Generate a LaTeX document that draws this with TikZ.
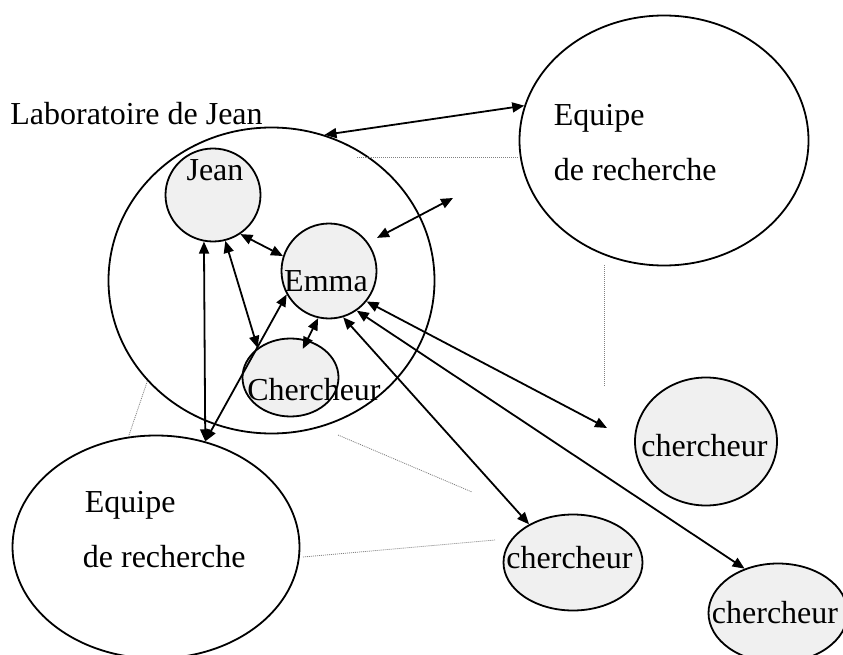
\documentclass[tikz,border=0pt]{standalone}
\usepackage{fontspec}
\setmainfont{Liberation Serif}
\usetikzlibrary{shapes.geometric,arrows.meta}

\begin{document}
\begin{tikzpicture}[<->,>={Triangle[length=12pt,width=10pt]},line width=1.8pt,
                x=1pt,y=1pt,font=\fontsize{32}{38}\selectfont]
        \tikzstyle{groupe}=[ellipse,draw,inner sep=0pt]
        \tikzstyle{membre}=[ellipse,draw,fill=gray!12,inner sep=0pt]
        \tikzstyle{nom}=[inner sep=0pt,anchor=base]
        \tikzstyle{lien}=[-,draw=gray,line width=0.8pt,dash pattern=on 1pt off 1pt]

        \useasboundingbox (0,0) rectangle (843,-655);

        % ensembles
        \node[groupe,minimum width=326pt,minimum height=306pt] (labo) at (271.5,-280.5) {};
        \node[groupe,minimum width=289pt,minimum height=250pt] (equipeA) at (664,-140.5) {};
        \node[groupe,minimum width=287pt,minimum height=223pt] (equipeB) at (156,-547) {};

        % personnes
        \node[membre,minimum width=95pt,minimum height=93pt]   (jean)    at (213,-195) {};
        \node[membre,minimum width=95pt,minimum height=95pt]   (emma)    at (329,-271) {};
        \node[membre,minimum width=96pt,minimum height=78pt]   (cherch)  at (290.5,-377.5) {};
        \node[membre,minimum width=142pt,minimum height=128pt] (cherchA) at (706,-441.5) {};
        \node[membre,minimum width=139pt,minimum height=96pt]  (cherchB) at (573,-562.5) {};
        \node[membre,minimum width=139pt,minimum height=99pt]  (cherchC) at (778,-613) {};

        % textes
        \node[nom] (tlabo)   at (136.5,-125) {Laboratoire de Jean};
        \node[nom] (tjean)   at (215,-181) {Jean};
        \node[nom] (temma)   at (326,-291) {Emma};
        \node[nom] (tcherch) at (314,-400) {Chercheur};
        \node[nom,anchor=base west] (tequipeA) at (553,-126) {Equipe};
        \node[nom,anchor=base west] (trechA)   at (553,-181) {de recherche};
        \node[nom,anchor=base west] (tequipeB) at (84,-512) {Equipe};
        \node[nom,anchor=base west] (trechB)   at (82,-567) {de recherche};
        \node[nom] (tcherchA) at (704.5,-456) {chercheur};
        \node[nom] (tcherchB) at (569.5,-568) {chercheur};
        \node[nom] (tcherchC) at (775,-623) {chercheur};

        \coordinate (libre1) at (453,-198);
        \coordinate (libre2) at (607,-428);

        % relations
        \draw (labo.70) -- (equipeA.166);
        \draw[shorten <=10pt] (emma.36) -- (libre1);
        \draw (jean.-55) -- (emma.162);
        \draw (jean.-101) -- (equipeB.65);
        \draw (jean.-75) -- (cherch.138);
        \draw (emma.-151) -- (equipeB.65);
        \draw[shorten >=-10pt] (emma.-103) -- (cherch.66);
        \draw (emma.-73) -- (cherchB.139);
        \draw (emma.-55) -- (cherchC.127);
        \draw (emma.-39) -- (libre2);

        % pointilles
        \coordinate (d1) at (357,-157);
        \coordinate (d2) at (518,-157);
        \coordinate (d3) at (604,-265);
        \coordinate (d4) at (604,-386);
        \coordinate (d5) at (338,-435);
        \coordinate (d6) at (472,-492);
        \coordinate (d7) at (303,-557);
        \coordinate (d8) at (495,-540);
        \draw[lien] (d1) -- (d2);
        \draw[lien] (d3) -- (d4);
        \draw[lien] (d5) -- (d6);
        \draw[lien] (d7) -- (d8);
        \draw[lien] (labo.-141) -- (equipeB.104);

\end{tikzpicture}
\end{document}
